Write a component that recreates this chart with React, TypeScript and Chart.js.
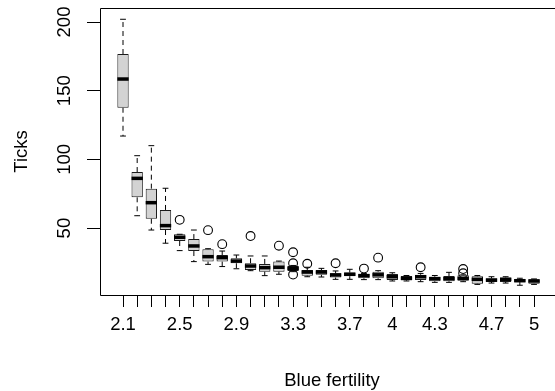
import React, { useEffect, useRef } from "react";
import { Chart, registerables } from "chart.js";

Chart.register(...registerables);

// ---- data ----
const categories = [
  "2.1", "2.2", "2.3", "2.4", "2.5", "2.6", "2.7", "2.8", "2.9", "3",
  "3.1", "3.2", "3.3", "3.4", "3.5", "3.6", "3.7", "3.8", "3.9", "4",
  "4.1", "4.2", "4.3", "4.4", "4.5", "4.6", "4.7", "4.8", "4.9", "5",
];
const tickLabels = [
  "2.1", "", "", "", "2.5", "", "", "", "2.9", "",
  "", "", "3.3", "", "", "", "3.7", "", "", "4",
  "", "", "4.3", "", "", "", "4.7", "", "", "5",
];
const whiskerLow = [
  117, 59, 48.6, 39, 33.6, 25.6, 23.6, 22, 20.4, 19,
  15.4, 16.4, 18.3, 14.6, 14.4, 12.7, 12.7, 12.5, 12.5, 11.5,
  11.5, 11, 10.5, 10.5, 11, 9, 10, 10, 8.4, 9,
];
const q1 = [
  137.6, 72.4, 56.8, 48.6, 40.6, 33.3, 25.6, 25.6, 24.4, 19.5,
  18.3, 18.3, 18.8, 15.4, 16, 14, 15, 13.5, 13.5, 12.2,
  12, 12.2, 11.3, 11.3, 11.7, 9.5, 10.8, 10.8, 10.8, 9.5,
];
const medians = [
  158.5, 86.2, 68.5, 51.8, 43.3, 37, 29.2, 28.5, 26, 22.4,
  21.2, 21.5, 20.7, 18, 18, 15.9, 16.4, 15.4, 16, 14.6,
  13.4, 14.6, 13.2, 13.2, 13.4, 12.7, 12.2, 12.7, 11.7, 11.5,
];
const q3 = [
  176.7, 90.8, 78.7, 63.2, 45.5, 42, 34.6, 30.4, 28, 24.4,
  23.9, 25.6, 22.4, 19.5, 19.5, 17.1, 17.6, 16.6, 18.3, 16.6,
  15.1, 16, 14.6, 15.1, 15.6, 14.9, 13.4, 14.1, 13, 12.7,
];
const whiskerHigh = [
  202, 102.7, 110, 79, 45.5, 48.6, 35, 33.3, 30.4, 29.7,
  29.7, 26, 22.8, 21.5, 20.7, 18.8, 20, 17, 19, 17.5,
  15.5, 17, 15.5, 17.8, 16, 15.5, 14.6, 14.6, 13.5, 13,
];
const outlierCategory = [
  "2.5", "2.7", "2.8", "3", "3.2", "3.3", "3.3", "3.3",
  "3.4", "3.6", "3.8", "3.9", "4.2", "4.5", "4.5",
];
const outlierValue = [
  56, 48.5, 38.3, 44.2, 37.2, 32.4, 24.4, 16.2,
  24, 24.4, 20.5, 28.5, 21.5, 20.2, 17.1,
];
const yTicks = [50, 100, 150, 200];

const xTitle = "Blue fertility";
const yTitle = "Ticks";

const FONT = '18.5px "Liberation Sans", Arial, Helvetica, sans-serif';

export default function App() {
  const ref = useRef<HTMLCanvasElement | null>(null);

  useEffect(() => {
    const canvas = ref.current;
    if (!canvas) return;

    const pos = (c: string) => categories.indexOf(c) + 1;

    const boxData = categories.map((c, i) => ({ x: i + 1, y: [q1[i], q3[i]] }));
    const whiskerData: any[] = [];
    categories.forEach((c, i) => {
      whiskerData.push({ x: i + 1, y: q3[i] });
      whiskerData.push({ x: i + 1, y: whiskerHigh[i] });
      whiskerData.push({ x: i + 1, y: null });
      whiskerData.push({ x: i + 1, y: q1[i] });
      whiskerData.push({ x: i + 1, y: whiskerLow[i] });
      whiskerData.push({ x: i + 1, y: null });
    });
    const stapleData: any[] = [];
    categories.forEach((c, i) => {
      stapleData.push({ x: i + 1, y: whiskerHigh[i] });
      stapleData.push({ x: i + 1, y: whiskerLow[i] });
    });
    const medianData = categories.map((c, i) => ({ x: i + 1, y: medians[i] }));
    const outlierData = outlierCategory.map((c, i) => ({ x: pos(c), y: outlierValue[i] }));

    const framePlugin = {
      id: "rframe",
      afterDraw(chart: any) {
        const { ctx, chartArea } = chart;
        const { left, top, bottom } = chartArea;
        const xs = chart.scales.x;
        const ys = chart.scales.y;
        ctx.save();
        // frame (open on the right, as the original is cropped there)
        ctx.strokeStyle = "#000";
        ctx.lineWidth = 1;
        ctx.setLineDash([]);
        ctx.beginPath();
        ctx.moveTo(chart.width, top + 0.5);
        ctx.lineTo(left + 0.5, top + 0.5);
        ctx.lineTo(left + 0.5, bottom + 0.5);
        ctx.lineTo(chart.width, bottom + 0.5);
        ctx.stroke();

        ctx.fillStyle = "#000";
        ctx.font = FONT;
        // x tick labels
        ctx.textAlign = "center";
        ctx.textBaseline = "alphabetic";
        xs.ticks.forEach((t: any, i: number) => {
          const lbl = tickLabels[i];
          if (!lbl) return;
          ctx.fillText(lbl, xs.getPixelForValue(t.value), 330);
        });
        // y tick labels (rotated)
        ys.ticks.forEach((t: any) => {
          const y = ys.getPixelForValue(t.value);
          ctx.save();
          ctx.translate(70, y);
          ctx.rotate(-Math.PI / 2);
          ctx.textAlign = "center";
          ctx.fillText(String(t.value), 0, 0);
          ctx.restore();
        });
        // axis titles
        ctx.textAlign = "center";
        ctx.fillText(xTitle, 332, 386);
        ctx.save();
        ctx.translate(27, (top + bottom) / 2);
        ctx.rotate(-Math.PI / 2);
        ctx.fillText(yTitle, 0, 0);
        ctx.restore();
        ctx.restore();
      },
    };

    const chart = new Chart(canvas, {
      data: {
        datasets: [
          {
            type: "line",
            data: whiskerData,
            borderColor: "#000",
            borderWidth: 1,
            borderDash: [5, 4],
            pointRadius: 0,
            spanGaps: false,
            fill: false,
            order: 5,
          } as any,
          {
            type: "bar",
            data: boxData,
            backgroundColor: "#d3d3d3",
            borderColor: "#1a1a1a",
            borderWidth: 1,
            borderSkipped: false,
            barPercentage: 0.8,
            categoryPercentage: 1,
            order: 4,
          } as any,
          {
            type: "scatter",
            data: stapleData,
            pointStyle: "line",
            pointRadius: 2.9,
            pointBorderWidth: 1,
            pointBorderColor: "#000",
            order: 3,
          } as any,
          {
            type: "scatter",
            data: medianData,
            pointStyle: "line",
            pointRadius: 5.67,
            pointBorderWidth: 3.5,
            pointBorderColor: "#000",
            order: 2,
          } as any,
          {
            type: "scatter",
            data: outlierData,
            pointStyle: "circle",
            pointRadius: 4.4,
            pointBorderWidth: 1.1,
            pointBorderColor: "#000",
            pointBackgroundColor: "rgba(0,0,0,0)",
            order: 1,
          } as any,
        ],
      },
      options: {
        responsive: false,
        animation: false,
        events: [],
        layout: { autoPadding: false, padding: { top: 8, right: 0, left: 0, bottom: 0 } },
        plugins: { legend: { display: false }, tooltip: { enabled: false } },
        scales: {
          x: {
            type: "linear",
            offset: false,
            min: -0.623,
            max: 31.48,
            afterBuildTicks: (s: any) => {
              s.ticks = categories.map((c, i) => ({ value: i + 1 }));
            },
            afterFit: (s: any) => {
              s.height = 96;
            },
            ticks: { display: false },
            grid: {
              offset: false,
              drawOnChartArea: false,
              drawTicks: true,
              tickLength: 12,
              color: "#000",
              lineWidth: 1,
            },
            border: { display: false },
          },
          y: {
            type: "linear",
            min: 1.3,
            max: 210.2,
            afterBuildTicks: (s: any) => {
              s.ticks = yTicks.map((v) => ({ value: v }));
            },
            afterFit: (s: any) => {
              s.width = 100;
            },
            ticks: { display: false },
            grid: {
              drawOnChartArea: false,
              drawTicks: true,
              tickLength: 13,
              color: "#000",
              lineWidth: 1,
            },
            border: { display: false },
          },
        },
      } as any,
      plugins: [framePlugin],
    });

    return () => chart.destroy();
  }, []);

  return (
    <div style={{ position: "absolute", left: 0, top: 0, width: 555, height: 391, background: "#fff" }}>
      <canvas ref={ref} width={555} height={391} style={{ display: "block" }} />
    </div>
  );
}
